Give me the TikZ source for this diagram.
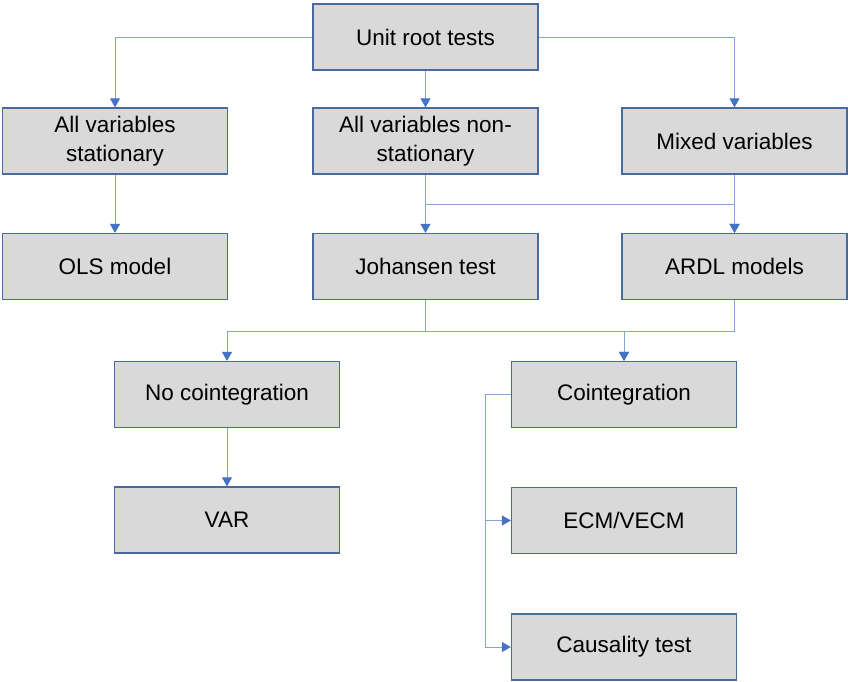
\documentclass[tikz,border=0pt]{standalone}
\usepackage{fontspec}
\setmainfont{Liberation Sans}
\usetikzlibrary{arrows.meta}
\definecolor{boxfill}{HTML}{D9D9D9}
\definecolor{boxline}{HTML}{4A6A9E}
\definecolor{linkline}{HTML}{86A3D8}
\definecolor{tipblue}{HTML}{4472C4}
\tikzset{
  stage/.style={draw=boxline,fill=boxfill,line width=1.3pt,minimum width=225pt,minimum height=66pt,
    align=center,inner sep=0pt,font=\fontsize{22.5}{29}\selectfont},
  link/.style={draw=linkline,line width=0.9pt},
  arr/.style={link,-{Triangle[width=10pt,length=9pt,color=tipblue]}}
}
\begin{document}
\begin{tikzpicture}[x=1pt,y=-1pt]
  \useasboundingbox (0,0) rectangle (848,681);
  % boxes
  \node[stage] (unit) at (425.5,37) {Unit root tests};
  \node[stage] (stat) at (115,141) {All variables\\stationary};
  \node[stage] (nonstat) at (425.5,141) {All variables non-\\stationary};
  \node[stage] (mixed) at (734.5,141) {Mixed variables};
  \node[stage] (ols) at (115,266.5) {OLS model};
  \node[stage] (joh) at (425.5,266.5) {Johansen test};
  \node[stage] (ardl) at (734.5,266.5) {ARDL models};
  \node[stage] (nocoint) at (227,394.5) {No cointegration};
  \node[stage] (coint) at (624,394.5) {Cointegration};
  \node[stage] (var) at (227,520) {VAR};
  \node[stage] (ecm) at (624,520.5) {ECM/VECM};
  \node[stage] (caus) at (624,647) {Causality test};
  % connectors
  \draw[arr] (unit.west) -| (stat.north);
  \draw[arr] (unit.east) -| (mixed.north);
  \draw[arr] (unit) -- (nonstat);
  \draw[arr] (stat) -- (ols);
  \draw[arr] (nonstat) -- (joh);
  \draw[arr] (mixed) -- (ardl);
  \draw[arr] (nonstat.south) -- ++(0,29.5) -| (ardl.north);
  \draw[arr] (joh.south) -- ++(0,31) -| (nocoint.north);
  \draw[arr] (joh.south) -- ++(0,31) -| (coint.north);
  \draw[arr] (ardl.south) -- ++(0,31) -| (coint.north);
  \draw[arr] (nocoint) -- (var);
  \draw[arr] (coint.west) -- ++(-25,0) |- (ecm.west);
  \draw[arr] (coint.west) -- ++(-25,0) |- (caus.west);
\end{tikzpicture}
\end{document}
